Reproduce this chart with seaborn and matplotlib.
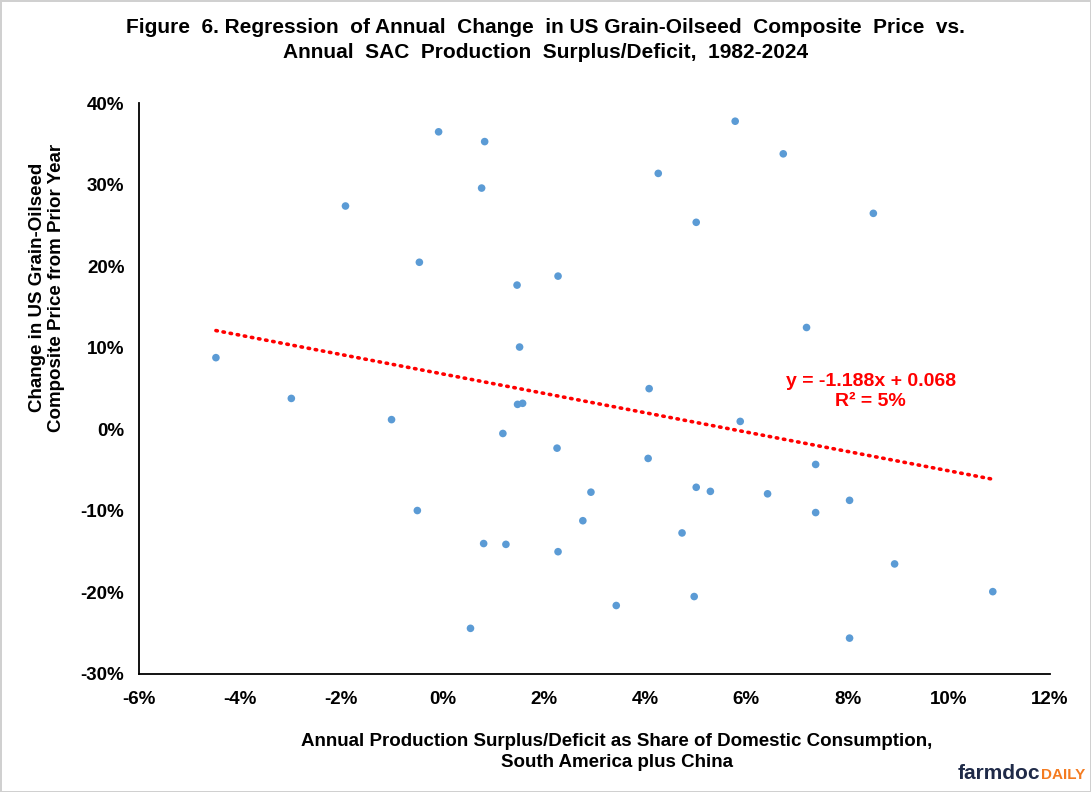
import numpy as np
import matplotlib
matplotlib.use("Agg")
import matplotlib.pyplot as plt
import seaborn as sns
import pandas as pd
from matplotlib.ticker import FuncFormatter

# SAC surplus/deficit as share of consumption (%), and change in US composite price (%)
surplus = [-0.08, 0.83, 0.77, -1.92, -0.46, 1.47, 2.28, 1.52, -4.48,
           5.78, 6.73, 4.26, 5.01, 8.51, 7.19, 4.08,
           -2.99, -1.01, 1.48, 1.58, 1.19, 2.26, 2.93, 2.77, -0.50, 0.81, 1.25, 2.28, 0.55,
           5.88, 4.06, 5.01, 5.29, 6.42, 7.37, 7.37, 8.04, 4.73, 3.43, 4.97, 8.04, 8.93, 10.87]
price_change = [36.5, 35.3, 29.6, 27.4, 20.5, 17.7, 18.8, 10.1, 8.8,
                37.8, 33.8, 31.4, 25.4, 26.5, 12.5, 5.0,
                3.8, 1.2, 3.07, 3.2, -0.5, -2.3, -7.7, -11.2, -9.95, -14.0, -14.1, -15.0, -24.4,
                0.98, -3.56, -7.1, -7.6, -7.9, -4.3, -10.2, -8.7, -12.7, -21.6, -20.5, -25.6, -16.5, -19.9]

slope = -1.188
intercept = 0.068
r_squared = "5%"

x_ticks = [-6, -4, -2, 0, 2, 4, 6, 8, 10, 12]
y_ticks = [-30, -20, -10, 0, 10, 20, 30, 40]

df = pd.DataFrame({"x": surplus, "y": price_change})

sns.set_style("white")
plt.rcParams['font.family'] = ['Liberation Sans', 'DejaVu Sans']
plt.rcParams['text.color'] = 'black'
plt.rcParams['xtick.color'] = 'black'
plt.rcParams['ytick.color'] = 'black'

fig = plt.figure(figsize=(10.91, 7.92), dpi=100)
fig.patch.set_edgecolor("#d0d0d0")
fig.patch.set_linewidth(2)
ax = fig.add_axes([0.1274, 0.149, 0.835, 0.7206])

sns.scatterplot(data=df, x="x", y="y", ax=ax, color="#5B9BD5", s=30,
                edgecolor="none", zorder=3)

# trend line over the data range
xs = np.array([df["x"].min(), df["x"].max()])
ys = (slope * xs / 100 + intercept) * 100
ax.plot(xs, ys, color="#FF0000", linewidth=2.6, linestyle=(0, (0.4, 1.6)),
        dash_capstyle="round", zorder=2)

ax.set_xlim(-6, 12)
ax.set_ylim(-30, 40)
ax.set_xticks(x_ticks)
ax.set_yticks(y_ticks)
ax.xaxis.set_major_formatter(FuncFormatter(lambda v, p: f"{v:.0f}%"))
ax.yaxis.set_major_formatter(FuncFormatter(lambda v, p: f"{v:.0f}%"))
ax.tick_params(axis="both", direction="inout", length=9, width=1.3, color="black",
               labelsize=13.5, pad=6, labelcolor="black")
for lab in ax.get_xticklabels() + ax.get_yticklabels():
    lab.set_fontweight("bold")
ax.tick_params(axis="x", pad=8)
for s in ["top", "right"]:
    ax.spines[s].set_visible(False)
for s in ["left", "bottom"]:
    ax.spines[s].set_color("black")
    ax.spines[s].set_linewidth(1.3)
ax.set_xlabel("")
ax.set_ylabel("")

fig.text(0.5, 0.9495, "Figure  6. Regression  of Annual  Change  in US Grain-Oilseed  Composite  Price  vs.\n"
         "Annual  SAC  Production  Surplus/Deficit,  1982-2024",
         ha="center", va="center", fontsize=15, fontweight="bold", linespacing=1.4)

fig.text(0.043, 0.637, "Change in US Grain-Oilseed\nComposite Price from Prior Year",
         rotation=90, ha="center", va="center", fontsize=13.5, fontweight="bold",
         linespacing=1.1)

fig.text(0.5655, 0.051, "Annual Production Surplus/Deficit as Share of Domestic Consumption,\n"
         "South America plus China", ha="center", va="center", fontsize=13.5,
         fontweight="bold", linespacing=1.3)

fig.text(0.798, 0.5057, f"y = {slope}x + {intercept}\nR² = {r_squared}",
         ha="center", va="center", color="#FF0000", fontsize=14, fontweight="bold",
         linespacing=1.2)

fig.text(0.953, 0.0164, "farmdoc", color="#1f2a48", fontsize=15, fontweight="bold",
         ha="right", va="baseline")
fig.text(0.954, 0.0164, "DAILY", color="#F47B20", fontsize=11, fontweight="bold",
         ha="left", va="baseline")

fig.savefig("out.png", dpi=100)
